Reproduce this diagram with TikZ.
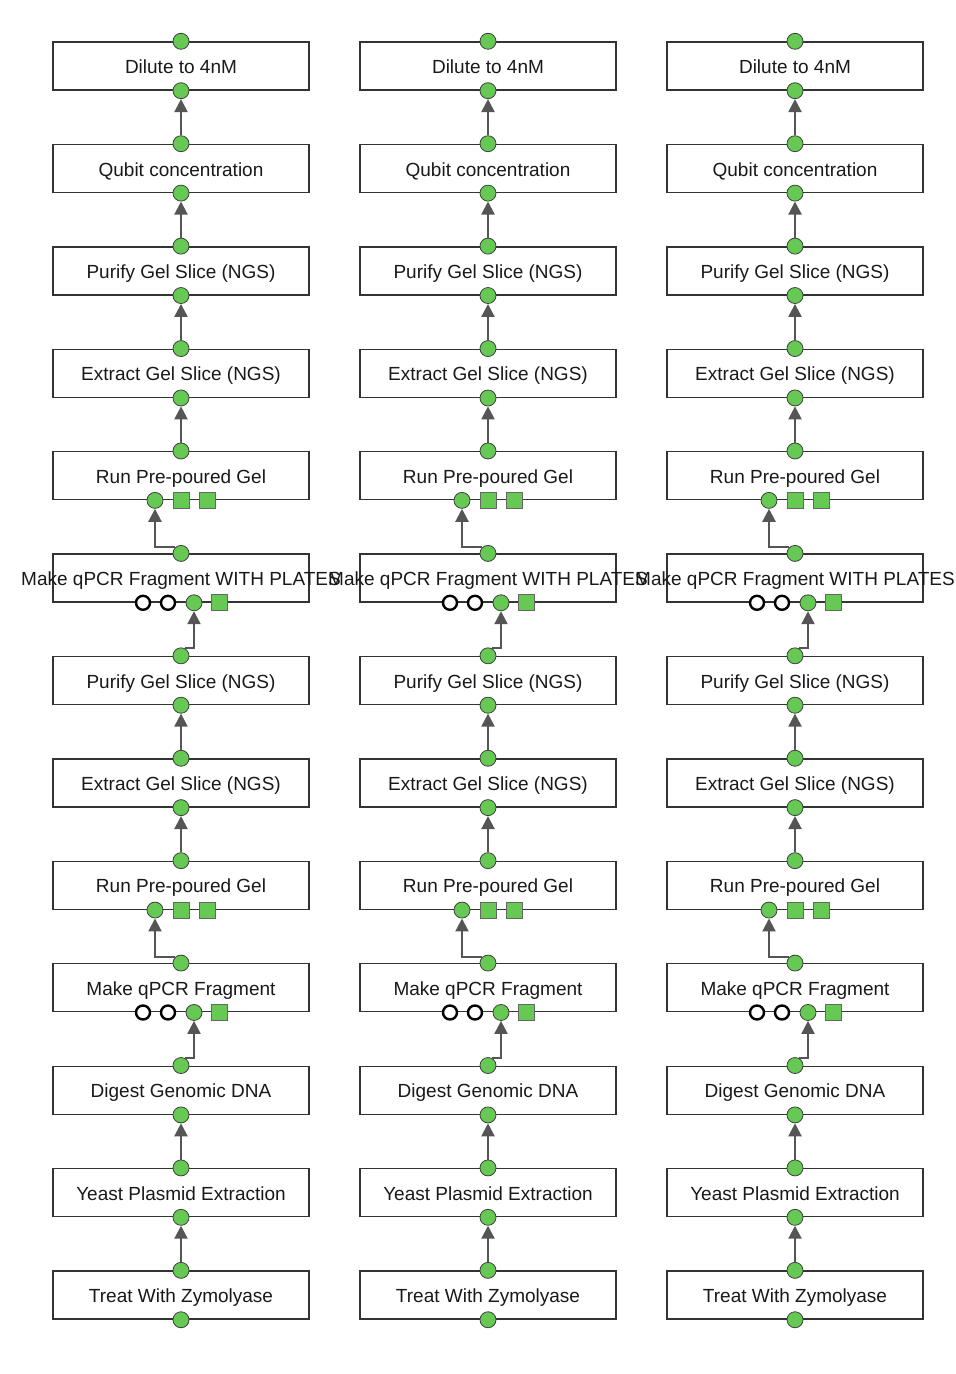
\documentclass[tikz,border=0pt]{standalone}
\usepackage{fontspec}
\setmainfont{Liberation Sans}
\usetikzlibrary{arrows.meta, positioning, calc}

\definecolor{portgreen}{RGB}{102,201,84}
\definecolor{edgegray}{RGB}{85,85,85}
\definecolor{boxline}{RGB}{51,51,51}

\newcommand{\steptext}[1]{\makebox[0pt]{#1}}

\begin{document}
\begin{tikzpicture}[x=0.5pt, y=-0.5pt, node distance=51.21pt]
% node styles
\tikzset{
  stepbox/.style={rectangle, draw=boxline, line width=0.7pt, fill=white, minimum width=128pt, minimum height=24pt, inner sep=0pt, text height=0.76em, text depth=0pt, font=\fontsize{9.5pt}{11pt}\selectfont, text=black!90},
  port/.style={circle, draw=black!75, line width=0.4pt, fill=portgreen, minimum size=8pt, inner sep=0pt},
  sqport/.style={rectangle, draw=black!60, line width=0.4pt, fill=portgreen, minimum size=8pt, inner sep=0pt},
  openport/.style={circle, draw=black, line width=1.2pt, fill=white, minimum size=7pt, inner sep=0pt},
  flow/.style={draw=edgegray, line width=1.1pt, -{Triangle[length=6.5pt, width=6.5pt]}}
}
\useasboundingbox (0,0) rectangle (956,1374);

\foreach \c/\x in {1/181, 2/488, 3/795} {
  % protocol steps
  \node [stepbox] (dil\c) at (\x,66) {\steptext{Dilute to 4nM}};
  \node [stepbox, below of=dil\c] (qub\c) {\steptext{Qubit concentration}};
  \node [stepbox, below of=qub\c] (pgA\c) {\steptext{Purify Gel Slice (NGS)}};
  \node [stepbox, below of=pgA\c] (egA\c) {\steptext{Extract Gel Slice (NGS)}};
  \node [stepbox, below of=egA\c] (rgA\c) {\steptext{Run Pre-poured Gel}};
  \node [stepbox, below of=rgA\c] (mqA\c) {\steptext{Make qPCR Fragment WITH PLATES}};
  \node [stepbox, below of=mqA\c] (pgB\c) {\steptext{Purify Gel Slice (NGS)}};
  \node [stepbox, below of=pgB\c] (egB\c) {\steptext{Extract Gel Slice (NGS)}};
  \node [stepbox, below of=egB\c] (rgB\c) {\steptext{Run Pre-poured Gel}};
  \node [stepbox, below of=rgB\c] (mqB\c) {\steptext{Make qPCR Fragment}};
  \node [stepbox, below of=mqB\c] (dgd\c) {\steptext{Digest Genomic DNA}};
  \node [stepbox, below of=dgd\c] (ype\c) {\steptext{Yeast Plasmid Extraction}};
  \node [stepbox, below of=ype\c] (tzy\c) {\steptext{Treat With Zymolyase}};

  % plain ports
  \foreach \n in {dil, qub, pgA, egA, pgB, egB, dgd, ype, tzy} {
    \node [port] (\n\c-in) at (\n\c.north) {};
    \node [port] (\n\c-out) at (\n\c.south) {};
  }

  % gel and qPCR ports
  \foreach \n in {rgA, rgB} {
    \node [port] (\n\c-in) at (\n\c.north) {};
    \node [port] (\n\c-out) at ([xshift=-13pt]\n\c.south) {};
    \node [sqport] (\n\c-sqa) at (\n\c.south) {};
    \node [sqport] (\n\c-sqb) at ([xshift=13pt]\n\c.south) {};
  }
  \foreach \n in {mqA, mqB} {
    \node [port] (\n\c-in) at (\n\c.north) {};
    \node [openport] (\n\c-opa) at ([xshift=-19pt]\n\c.south) {};
    \node [openport] (\n\c-opb) at ([xshift=-6.5pt]\n\c.south) {};
    \node [port] (\n\c-out) at ([xshift=6.5pt]\n\c.south) {};
    \node [sqport] (\n\c-sq) at ([xshift=19pt]\n\c.south) {};
  }

  % connectors
  \path [flow] (qub\c-in) -- (dil\c-out);
  \path [flow] (pgA\c-in) -- (qub\c-out);
  \path [flow] (egA\c-in) -- (pgA\c-out);
  \path [flow] (rgA\c-in) -- (egA\c-out);
  \path [flow] (mqA\c-in) -- ([yshift=13.75pt]mqA\c-in) -| (rgA\c-out);
  \path [flow] (pgB\c-in) -- ([yshift=13.75pt]pgB\c-in) -| (mqA\c-out);
  \path [flow] (egB\c-in) -- (pgB\c-out);
  \path [flow] (rgB\c-in) -- (egB\c-out);
  \path [flow] (mqB\c-in) -- ([yshift=13.75pt]mqB\c-in) -| (rgB\c-out);
  \path [flow] (dgd\c-in) -- ([yshift=13.75pt]dgd\c-in) -| (mqB\c-out);
  \path [flow] (ype\c-in) -- (dgd\c-out);
  \path [flow] (tzy\c-in) -- (ype\c-out);
}
\end{tikzpicture}
\end{document}
